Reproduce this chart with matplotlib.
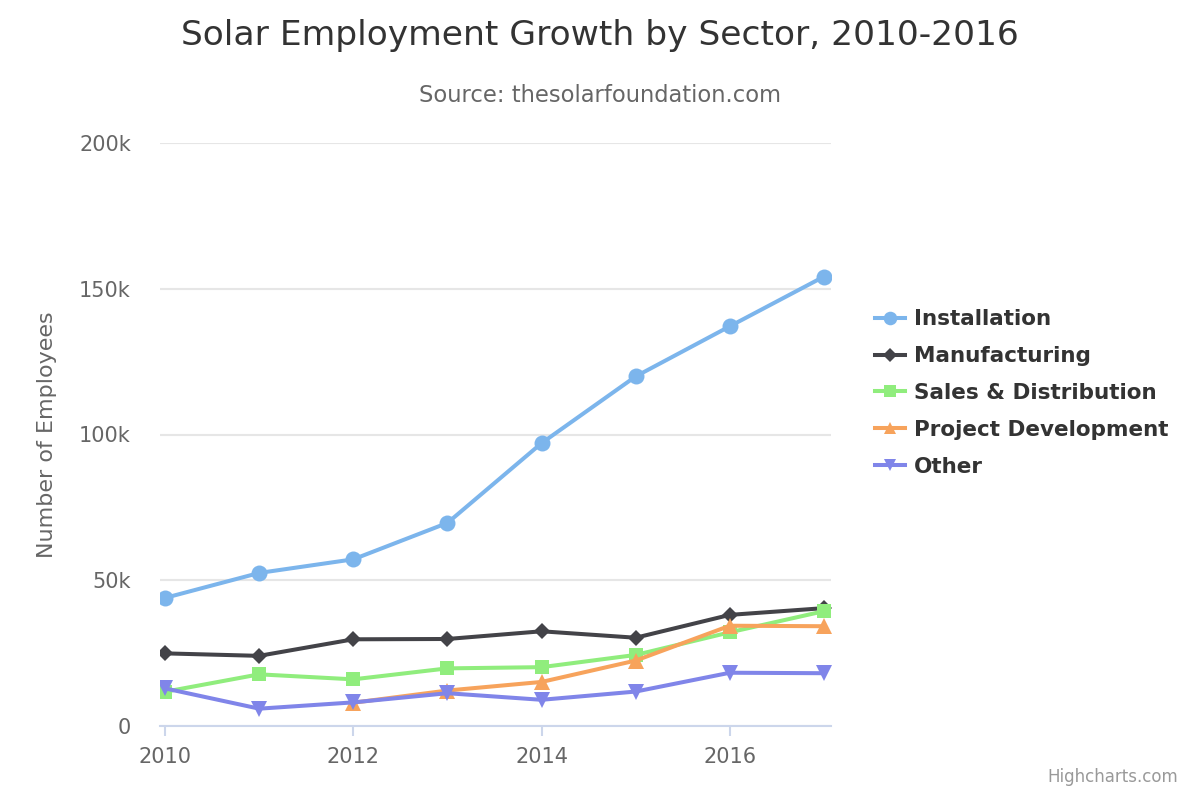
import matplotlib.pyplot as plt
from matplotlib.ticker import FuncFormatter
import numpy as np

years = [2010, 2011, 2012, 2013, 2014, 2015, 2016, 2017]
installation = [43934, 52503, 57177, 69658, 97031, 119931, 137133, 154175]
manufacturing = [24916, 24064, 29742, 29851, 32490, 30282, 38121, 40434]
sales = [11744, 17722, 16005, 19771, 20185, 24377, 32147, 39387]
project_dev = [np.nan, np.nan, 7988, 12169, 15112, 22452, 34400, 34227]
other = [12908, 5948, 8105, 11248, 8989, 11816, 18274, 18111]

series = [
    ('Installation', installation, '#7cb5ec', 'o', 11.5),
    ('Manufacturing', manufacturing, '#434348', 'D', 8.5),
    ('Sales & Distribution', sales, '#90ed7d', 's', 10.5),
    ('Project Development', project_dev, '#f7a35c', '^', 11),
    ('Other', other, '#8085e9', 'v', 11),
]

fig = plt.figure(figsize=(12, 8), dpi=100)
ax = fig.add_axes([160 / 1200, 74 / 800, 671 / 1200, 583 / 800])

for name, vals, color, marker, ms in series:
    ax.plot(years, vals, color=color, marker=marker, markersize=ms,
            linewidth=2.9, label=name, markeredgewidth=0)

ax.set_xlim(2010 - 5 / 94.1, 2017 + 7 / 94.1)
ax.set_ylim(0, 200000)
ax.set_yticks([0, 50000, 100000, 150000, 200000])
ax.yaxis.set_major_formatter(FuncFormatter(lambda v, p: '0' if v == 0 else f'{int(v / 1000)}k'))
ax.set_xticks([2010, 2012, 2014, 2016])

for s in ['top', 'right', 'left']:
    ax.spines[s].set_visible(False)
ax.spines['bottom'].set_color('#ccd6eb')
ax.spines['bottom'].set_linewidth(1.5)
ax.grid(axis='y', color='#e6e6e6', linewidth=1.5)
ax.set_axisbelow(True)
ax.tick_params(axis='y', length=0, pad=21, labelsize=15, labelcolor='#666666')
ax.tick_params(axis='x', length=7, width=1.5, color='#ccd6eb', pad=8,
               labelsize=15, labelcolor='#666666')
ax.set_ylabel('Number of Employees', fontsize=16, color='#666666', labelpad=16)

fig.text(0.5, 0.955, 'Solar Employment Growth by Sector, 2010-2016', ha='center',
         va='center', fontsize=24.8, color='#333333')
fig.text(0.5, 0.88, 'Source: thesolarfoundation.com', ha='center', va='center',
         fontsize=16.3, color='#666666')
fig.text(0.982, 0.018, 'Highcharts.com', ha='right', va='bottom', fontsize=12,
         color='#999999')

leg = fig.legend(loc='center left', bbox_to_anchor=(875 / 1200, 1 - 393 / 800),
                 frameon=False, prop={'weight': 'bold', 'size': 15.5},
                 handlelength=1.4, handletextpad=0.4, labelspacing=0.78,
                 borderpad=0, borderaxespad=0, markerscale=0.85)
for t in leg.get_texts():
    t.set_color('#333333')

fig.savefig('out.png', dpi=100)
